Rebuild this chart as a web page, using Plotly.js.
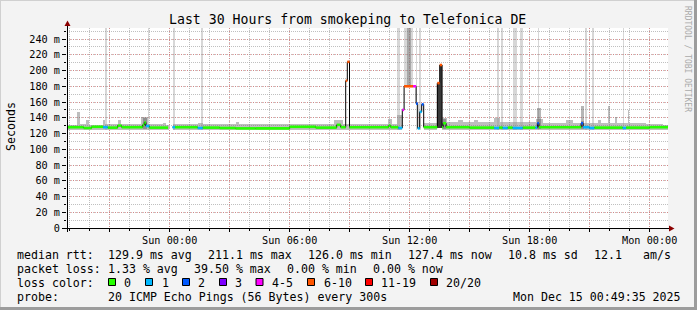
<!DOCTYPE html>
<html><head><meta charset="utf-8">
<script src="https://cdn.plot.ly/plotly-3.0.1.min.js"></script>
<style>html,body{margin:0;padding:0;background:#f3f3f3;}#chart{width:697px;height:310px;}</style>
</head><body><div id="chart"></div>
<script>
// ---------- DATA (time = hours relative to Sun Dec 14 2025 00:00) ----------
// median RTT (ms) at change points, with loss class index per interval
const medT = [-5.14,-4.30,-3.90,-3.33,-3.10,-2.60,-2.40,-1.35,-1.27,-1.19,-1.02,-0.08,0.14,0.27,1.40,1.65,2.50,3.30,4.30,6.00,7.30,8.35,8.55,8.80,8.88,8.99,10.95,11.05,11.43,11.63,11.72,12.17,12.32,12.40,12.50,12.60,12.70,13.38,13.50,13.62,13.67,13.82,15.00,16.22,16.47,16.65,16.90,17.15,17.65,18.28,18.38,18.46,20.57,20.67,20.98,21.23,22.65,22.82,24.00,24.92];
const medV = [128,127,128.5,128,127.5,130,128,131,134,129.5,127.5,null,128,128,127,127.5,127,126.5,126.5,128.5,127.5,131,128,187,211,128,130,128,127,150,180,180,158,126.5,147.5,157,128,184,207,128,133,128,127.5,127,127.5,127,127.5,127,127.5,127.5,133,128,133,128,127,127.5,127,127.5,128,128];
const medL = [0,0,0,1,0,0,0,0,0,1,0,0,1,0,1,0,0,0,0,0,0,0,0,5,5,0,0,0,1,4,5,4,2,1,1,2,0,5,5,0,0,0,0,1,0,1,0,1,0,1,2,0,2,1,1,0,1,0,0,0];

// smoke band (ms) at change points; null = no smoke
const smokeT  = [-5.14,-4.64,-4.49,-4.19,-4.03,-3.33,-3.24,-2.59,-2.44,-1.44,-1.09,-0.34,-0.19,-0.06,0.14,1.40,1.65,3.32,3.47,5.50,8.20,8.67,10.90,11.10,11.37,11.63,12.72,13.38,13.62,13.87,14.40,14.67,15.20,15.40,16.20,16.50,18.30,18.67,19.80,20.15,20.57,20.72,21.40,21.57,21.90,22.00,22.27,22.37,22.90,22.98,23.80,24.65,24.92];
const smokeHi = [131,147.5,131.5,137,131,137,131.5,137.5,132,141.5,131.5,133,131,null,131.5,133,131.5,135,131.5,132,137,132,139,132,144,null,133,null,140,134,137,134,137.5,134.5,140,134,138,133,137,133,136,133,137,133,155,133,141,133,150,133,132,131,null];
const smokeLo = [125,125,125,125,125,125,125,125,125,125,125,125,125,null,124.5,124.5,124.5,124.5,124.5,124.5,124.5,124.5,124.5,124.5,124.5,null,124.5,null,124.5,124.5,124.5,124.5,124.5,124.5,124.5,124.5,124.5,124.5,124.5,124.5,124.5,124.5,124.5,124.5,124.5,124.5,124.5,124.5,124.5,124.5,124.5,124.5,null];

// tall smoke columns reaching the top of the graph
const tallT    = [-3.18,-1.06,0.20,1.60,11.44,11.94,12.35,12.50,16.39,16.60,17.24,17.59,18.44,20.79,21.17,22.69];
const tallW    = [0.09,0.08,0.10,0.10,0.13,0.48,0.07,0.08,0.10,0.08,0.20,0.13,0.08,0.10,0.12,0.08];
const tallBase = [125,125,125,125,125,180,125,125,125,125,125,125,125,125,125,125];
// darker core column
const coreT = [11.96], coreW = [0.22], coreBase = [180];
// darker partial smoke columns
const darkT = [-1.25,13.75,18.45,20.65], darkW = [0.20,0.15,0.20,0.15], darkTop = [140,139,152,155], darkBase = [126,126,126,126];
// dark smoke of the last outage
const spikeT = [13.44,13.56], spikeW = [0.12,0.12], spikeTop = [184,207], spikeBase = [127,127];

const lossColors = ['#26ff00','#00b8ff','#0059ff','#7e00ff','#ff00ff','#ff5500','#ff0000','#a10000'];
const lossLabels = ['0','1','2','3','4-5','6-10','11-19','20/20'];
const xTickVals = [-3,0,3,6,9,12,15,18,21,24];
const xTickText = ['','Sun 00:00','','Sun 06:00','','Sun 12:00','','Sun 18:00','','Mon 00:00'];
const yTickVals = [0,20,40,60,80,100,120,140,160,180,200,220,240];
const yTickText = ['0','20 m','40 m','60 m','80 m','100 m','120 m','140 m','160 m','180 m','200 m','220 m','240 m'];
const titleText = 'Last 30 Hours from smokeping to Telefonica DE';
const rttStats  = ['129.9 ms avg','211.1 ms max','126.0 ms min','127.4 ms now','10.8 ms sd','12.1','am/s'];
const lossStats = ['1.33 % avg','39.50 % max','0.00 % min','0.00 % now'];
const probeText = '20 ICMP Echo Pings (56 Bytes) every 300s';
const stampText = 'Mon Dec 15 00:49:35 2025';

// ---------- DRAWING ----------
const FONT = 'DejaVu Sans Mono';
const L = 67, R = 668, T = 28, B = 228, W = 697, H = 310;
const YMAX = 254, X0 = -5.135, X1 = 24.915;
const px = x => (x - L) / (R - L);
const py = y => (B - y) / (B - T);

const traces = [];
function barTrace(x, w, base, top, color) {
  return {type:'bar', x:x, width:w, base:base, y:top.map((t,i)=>t-base[i]),
    marker:{color:color, line:{width:0}}, hoverinfo:'skip', showlegend:false};
}
// smoke band
{
  const sx=[], sw=[], sb=[], st=[];
  for (let i=0;i<smokeT.length-1;i++){
    if (smokeHi[i]==null) continue;
    sx.push((smokeT[i]+smokeT[i+1])/2); sw.push(smokeT[i+1]-smokeT[i]);
    sb.push(smokeLo[i]); st.push(smokeHi[i]);
  }
  traces.push(barTrace(sx, sw, sb, st, 'rgba(120,120,120,0.48)'));
}
traces.push(barTrace(tallT, tallW, tallBase, tallT.map(()=>YMAX), 'rgba(150,150,150,0.38)'));
traces.push(barTrace(coreT, coreW, coreBase, coreT.map(()=>YMAX), 'rgba(110,110,110,0.45)'));
traces.push(barTrace(darkT, darkW, darkBase, darkTop, 'rgba(90,90,90,0.45)'));
traces.push(barTrace(spikeT, spikeW, spikeBase, spikeTop, '#3a3a3a'));

// median step line (black)
traces.push({type:'scatter', mode:'lines', x:medT, y:medV, line:{shape:'hv', color:'#000', width:1},
  connectgaps:false, hoverinfo:'skip', showlegend:false});
// coloured median segments by loss
for (let c=0;c<lossColors.length;c++){
  const xs=[], ys=[];
  for (let i=0;i<medT.length-1;i++){
    if (medL[i]!==c || medV[i]==null) continue;
    xs.push(medT[i], medT[i+1], null); ys.push(medV[i], medV[i], null);
  }
  if (xs.length) traces.push({type:'scatter', mode:'lines', x:xs, y:ys,
    line:{color:lossColors[c], width:2.6}, connectgaps:false, hoverinfo:'skip', showlegend:false});
}

const shapes = [];
const annotations = [];
function txt(text, x, y, size, opts) {
  annotations.push(Object.assign({text:text.replace(/ /g,'\u00a0'), xref:'paper', yref:'paper',
    x:px(x), y:py(y), xanchor:'left', yanchor:'middle', showarrow:false, borderpad:0,
    font:{family:FONT, size:size, color:'#000'}}, opts||{}));
}
// frame
shapes.push({type:'line', xref:'paper', yref:'paper', x0:px(0), x1:px(W), y0:py(0.5), y1:py(0.5), line:{color:'#d0d0d0', width:1}});
shapes.push({type:'line', xref:'paper', yref:'paper', x0:px(0.5), x1:px(0.5), y0:py(0), y1:py(H), line:{color:'#d0d0d0', width:1}});
shapes.push({type:'rect', xref:'paper', yref:'paper', x0:px(694), x1:px(697), y0:py(0), y1:py(H), fillcolor:'#9c9c9c', line:{width:0}});
shapes.push({type:'rect', xref:'paper', yref:'paper', x0:px(0), x1:px(697), y0:py(307), y1:py(310), fillcolor:'#9c9c9c', line:{width:0}});
// axes with arrows
shapes.push({type:'line', xref:'paper', yref:'paper', x0:px(67.5), x1:px(67.5), y0:py(232), y1:py(25), line:{color:'#000', width:1}});
shapes.push({type:'line', xref:'paper', yref:'paper', x0:px(62), x1:px(670), y0:py(228.5), y1:py(228.5), line:{color:'#000', width:1}});
shapes.push({type:'path', xref:'paper', yref:'paper',
  path:`M ${px(64.5)} ${py(26)} L ${px(70.5)} ${py(26)} L ${px(67.5)} ${py(20.5)} Z`, fillcolor:'#8b0000', line:{width:0}});
shapes.push({type:'path', xref:'paper', yref:'paper',
  path:`M ${px(669)} ${py(225.5)} L ${px(669)} ${py(231.5)} L ${px(674.5)} ${py(228.5)} Z`, fillcolor:'#8b0000', line:{width:0}});

// title, axis title, watermark
annotations.push({text:titleText, xref:'paper', yref:'paper', x:px(347.5), y:py(19), xanchor:'center', yanchor:'middle',
  showarrow:false, font:{family:FONT, size:13.2, color:'#000'}});
annotations.push({text:'Seconds', xref:'paper', yref:'paper', x:px(11), y:py(127), xanchor:'center', yanchor:'middle',
  textangle:-90, showarrow:false, font:{family:FONT, size:11.6, color:'#000'}});
annotations.push({text:'RRDTOOL / TOBI OETIKER', xref:'paper', yref:'paper', x:px(688), y:py(59), xanchor:'center', yanchor:'middle',
  textangle:90, showarrow:false, font:{family:FONT, size:8, color:'#aaaaaa'}});

// legend text
const LS = 11.6;
txt('median rtt:', 15.5, 254.5, LS);
const rttX = [107,207,306.5,406.5,507,593,641.5];
rttStats.forEach((s,i)=>txt(s, rttX[i], 254.5, LS));
txt('packet loss:', 15.5, 268.5, LS);
const lossX = [107,192.5,286,371.5];
lossStats.forEach((s,i)=>txt(s, lossX[i], 268.5, LS));
txt('loss color:', 15.5, 282.5, LS);
const boxX = [108.5,145.5,182.5,219.5,256,307.5,365.5,430.5];
const labX = [123,160.5,197,234,270.5,322.5,379.5,444.5];
lossLabels.forEach((s,i)=>{
  shapes.push({type:'rect', xref:'paper', yref:'paper', x0:px(boxX[i]), x1:px(boxX[i]+7), y0:py(285.5), y1:py(278.5),
    fillcolor:lossColors[i], line:{color:'#000', width:1}});
  txt(s, labX[i], 282.5, LS);
});
txt('probe:', 15.5, 296.5, LS);
txt(probeText, 107, 296.5, LS);
txt(stampText, 512, 296.5, LS);

const gridRed = 'rgba(225,90,90,0.55)';
const gridGray = 'rgba(150,150,150,0.6)';
const layout = {
  width:W, height:H, margin:{l:L, r:W-R, t:T, b:H-B, pad:0},
  paper_bgcolor:'#f3f3f3', plot_bgcolor:'#ffffff', showlegend:false, barmode:'overlay', bargap:0,
  xaxis:{type:'linear', range:[X0,X1], tickmode:'array', tickvals:xTickVals, ticktext:xTickText,
    tickfont:{family:FONT, size:10.2, color:'#000'}, ticks:'outside', ticklen:3, tickcolor:'#000',
    showgrid:true, gridcolor:gridRed, griddash:'1px,2px', gridwidth:1, zeroline:false, showline:false, fixedrange:true,
    minor:{tickmode:'linear', tick0:0, dtick:1, showgrid:true, gridcolor:gridGray, griddash:'1px,1px', ticks:'outside', ticklen:2, tickcolor:'#000'}},
  yaxis:{type:'linear', range:[0,YMAX], tickmode:'array', tickvals:yTickVals, ticktext:yTickText,
    tickfont:{family:FONT, size:10.2, color:'#000'}, ticks:'outside', ticklen:4, tickcolor:'#000',
    showgrid:true, gridcolor:gridRed, griddash:'1px,2px', gridwidth:1, zeroline:false, showline:false, fixedrange:true,
    minor:{tickmode:'linear', tick0:0, dtick:10, showgrid:true, gridcolor:gridGray, griddash:'1px,1px', ticks:'outside', ticklen:2, tickcolor:'#000'}},
  shapes:shapes, annotations:annotations
};
Plotly.newPlot('chart', traces, layout, {displayModeBar:false, staticPlot:true});
</script></body></html>
